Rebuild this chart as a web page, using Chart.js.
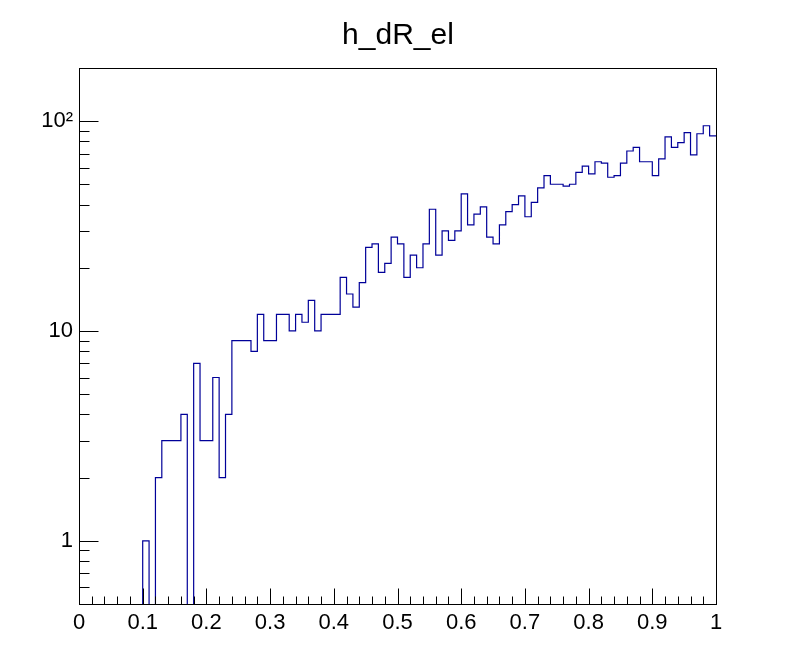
<!DOCTYPE html>
<html>
<head>
<meta charset="utf-8">
<title>h_dR_el</title>
<script src="https://cdn.jsdelivr.net/npm/chart.js@4.4.1/dist/chart.umd.min.js"></script>
<style>
    html, body { margin: 0; padding: 0; background: #ffffff; }
    #wrap { width: 796px; height: 672px; }
</style>
</head>
<body>
<div id="wrap"><canvas id="histChart" width="796" height="672"></canvas></div>
<script>
// Histogram settings: 100 bins from 0 to 1
const binLow = 0;
const binHigh = 1;
const nBins = 100;

// Bin contents (bin 0 .. bin 99)
const counts = [
    0, 0, 0, 0, 0, 0, 0, 0, 0, 0,
    1, 0, 2, 3, 3, 3, 4, 0, 7, 3,
    3, 6, 2, 4, 9, 9, 9, 8, 12, 9,
    9, 12, 12, 10, 12, 11, 14, 10, 12, 12,
    12, 18, 15, 13, 17, 25, 26, 19, 21, 28,
    26, 18, 23, 20, 26, 38, 23, 30, 27, 30,
    45, 32, 36, 39, 28, 26, 32, 37, 40, 44,
    35, 41, 48, 55, 50, 50, 49, 50, 57, 61,
    56, 64, 63, 54, 55, 63, 72, 75, 64, 64,
    55, 66, 84, 75, 79, 88, 69, 87, 95, 85
];

// Axis ranges and ticks
const yMin = 0.5;
const yMax = 179;
const yMajorTicks = [1, 10, 100];
const yMajorLabels = ['1', '10', '10\u00B2'];
const yMinorTicks = [0.6, 0.7, 0.8, 0.9, 2, 3, 4, 5, 6, 7, 8, 9, 20, 30, 40, 50, 60, 70, 80, 90];
const xMajorStep = 0.1;
const xMinorStep = 0.02;

const histTitle = 'h_dR_el';
const lineColor = '#000099';
const fontName = '"Liberation Sans", Arial, Helvetica, sans-serif';

// Build the outline points: each bin gives its left and right corner
const binWidth = (binHigh - binLow) / nBins;
const outline = [];
counts.forEach((c, i) => {
    // empty bins fall below the log axis and get clipped away
    const y = c > 0 ? c : yMin * 0.5;
    outline.push({ x: binLow + i * binWidth, y: y });
    outline.push({ x: binLow + (i + 1) * binWidth, y: y });
});

// Frame, ROOT-style inward ticks and the title
const rootFrame = {
    id: 'rootFrame',
    afterDraw(chart) {
        const ctx = chart.ctx;
        const area = chart.chartArea;
        const xs = chart.scales.x;
        const ys = chart.scales.y;
        ctx.save();
        ctx.strokeStyle = '#000000';
        ctx.lineWidth = 1;

        // frame
        ctx.strokeRect(Math.round(area.left) + 0.5, Math.round(area.top) + 0.5,
            Math.round(area.right - area.left), Math.round(area.bottom - area.top));

        ctx.beginPath();
        // x ticks (pointing up from the bottom axis)
        const bottom = Math.round(area.bottom) + 0.5;
        const nMinor = Math.round((binHigh - binLow) / xMinorStep);
        for (let k = 0; k <= nMinor; k++) {
            const v = binLow + k * xMinorStep;
            const px = Math.round(xs.getPixelForValue(v)) + 0.5;
            const isMajor = Math.abs(v / xMajorStep - Math.round(v / xMajorStep)) < 1e-6;
            const len = isMajor ? 16 : 8;
            ctx.moveTo(px, bottom);
            ctx.lineTo(px, bottom - len);
        }
        // y ticks (pointing right from the left axis)
        const left = Math.round(area.left) + 0.5;
        yMajorTicks.forEach(v => {
            const py = Math.round(ys.getPixelForValue(v)) + 0.5;
            ctx.moveTo(left, py);
            ctx.lineTo(left + 19, py);
        });
        yMinorTicks.forEach(v => {
            if (v < yMin || v > yMax) return;
            const py = Math.round(ys.getPixelForValue(v)) + 0.5;
            ctx.moveTo(left, py);
            ctx.lineTo(left + 10, py);
        });
        ctx.stroke();

        // title
        ctx.fillStyle = '#000000';
        ctx.font = '30px ' + fontName;
        ctx.textAlign = 'center';
        ctx.textBaseline = 'alphabetic';
        ctx.fillText(histTitle, chart.width / 2, 44);
        ctx.restore();
    }
};

const ctx = document.getElementById('histChart').getContext('2d');
const histChart = new Chart(ctx, {
    type: 'line',
    data: {
        datasets: [{
            label: histTitle,
            data: outline,
            borderColor: lineColor,
            borderWidth: 1.2,
            pointRadius: 0,
            tension: 0,
            fill: false,
            clip: 0
        }]
    },
    options: {
        responsive: false,
        animation: false,
        devicePixelRatio: 1,
        layout: {
            padding: { top: 68, right: 80, bottom: 0, left: 0 }
        },
        plugins: {
            legend: { display: false },
            title: { display: false },
            tooltip: { enabled: false }
        },
        scales: {
            x: {
                type: 'linear',
                min: binLow,
                max: binHigh,
                grid: { display: false, drawTicks: false },
                border: { display: false },
                ticks: {
                    stepSize: xMajorStep,
                    padding: 6,
                    color: '#000000',
                    font: { family: fontName, size: 22 },
                    maxRotation: 0,
                    autoSkip: false,
                    callback: (v) => String(Number(v.toFixed(1)))
                },
                afterFit: (scale) => { scale.height = 68; }
            },
            y: {
                type: 'logarithmic',
                min: yMin,
                max: yMax,
                grid: { display: false, drawTicks: false },
                border: { display: false },
                ticks: {
                    padding: 6,
                    color: '#000000',
                    font: { family: fontName, size: 22 },
                    autoSkip: false,
                    callback: (v) => {
                        const i = yMajorTicks.indexOf(v);
                        return i >= 0 ? yMajorLabels[i] : '';
                    }
                },
                afterBuildTicks: (scale) => {
                    scale.ticks = yMajorTicks.map(v => ({ value: v }));
                },
                afterFit: (scale) => { scale.width = 79; }
            }
        }
    },
    plugins: [rootFrame]
});
</script>
</body>
</html>
